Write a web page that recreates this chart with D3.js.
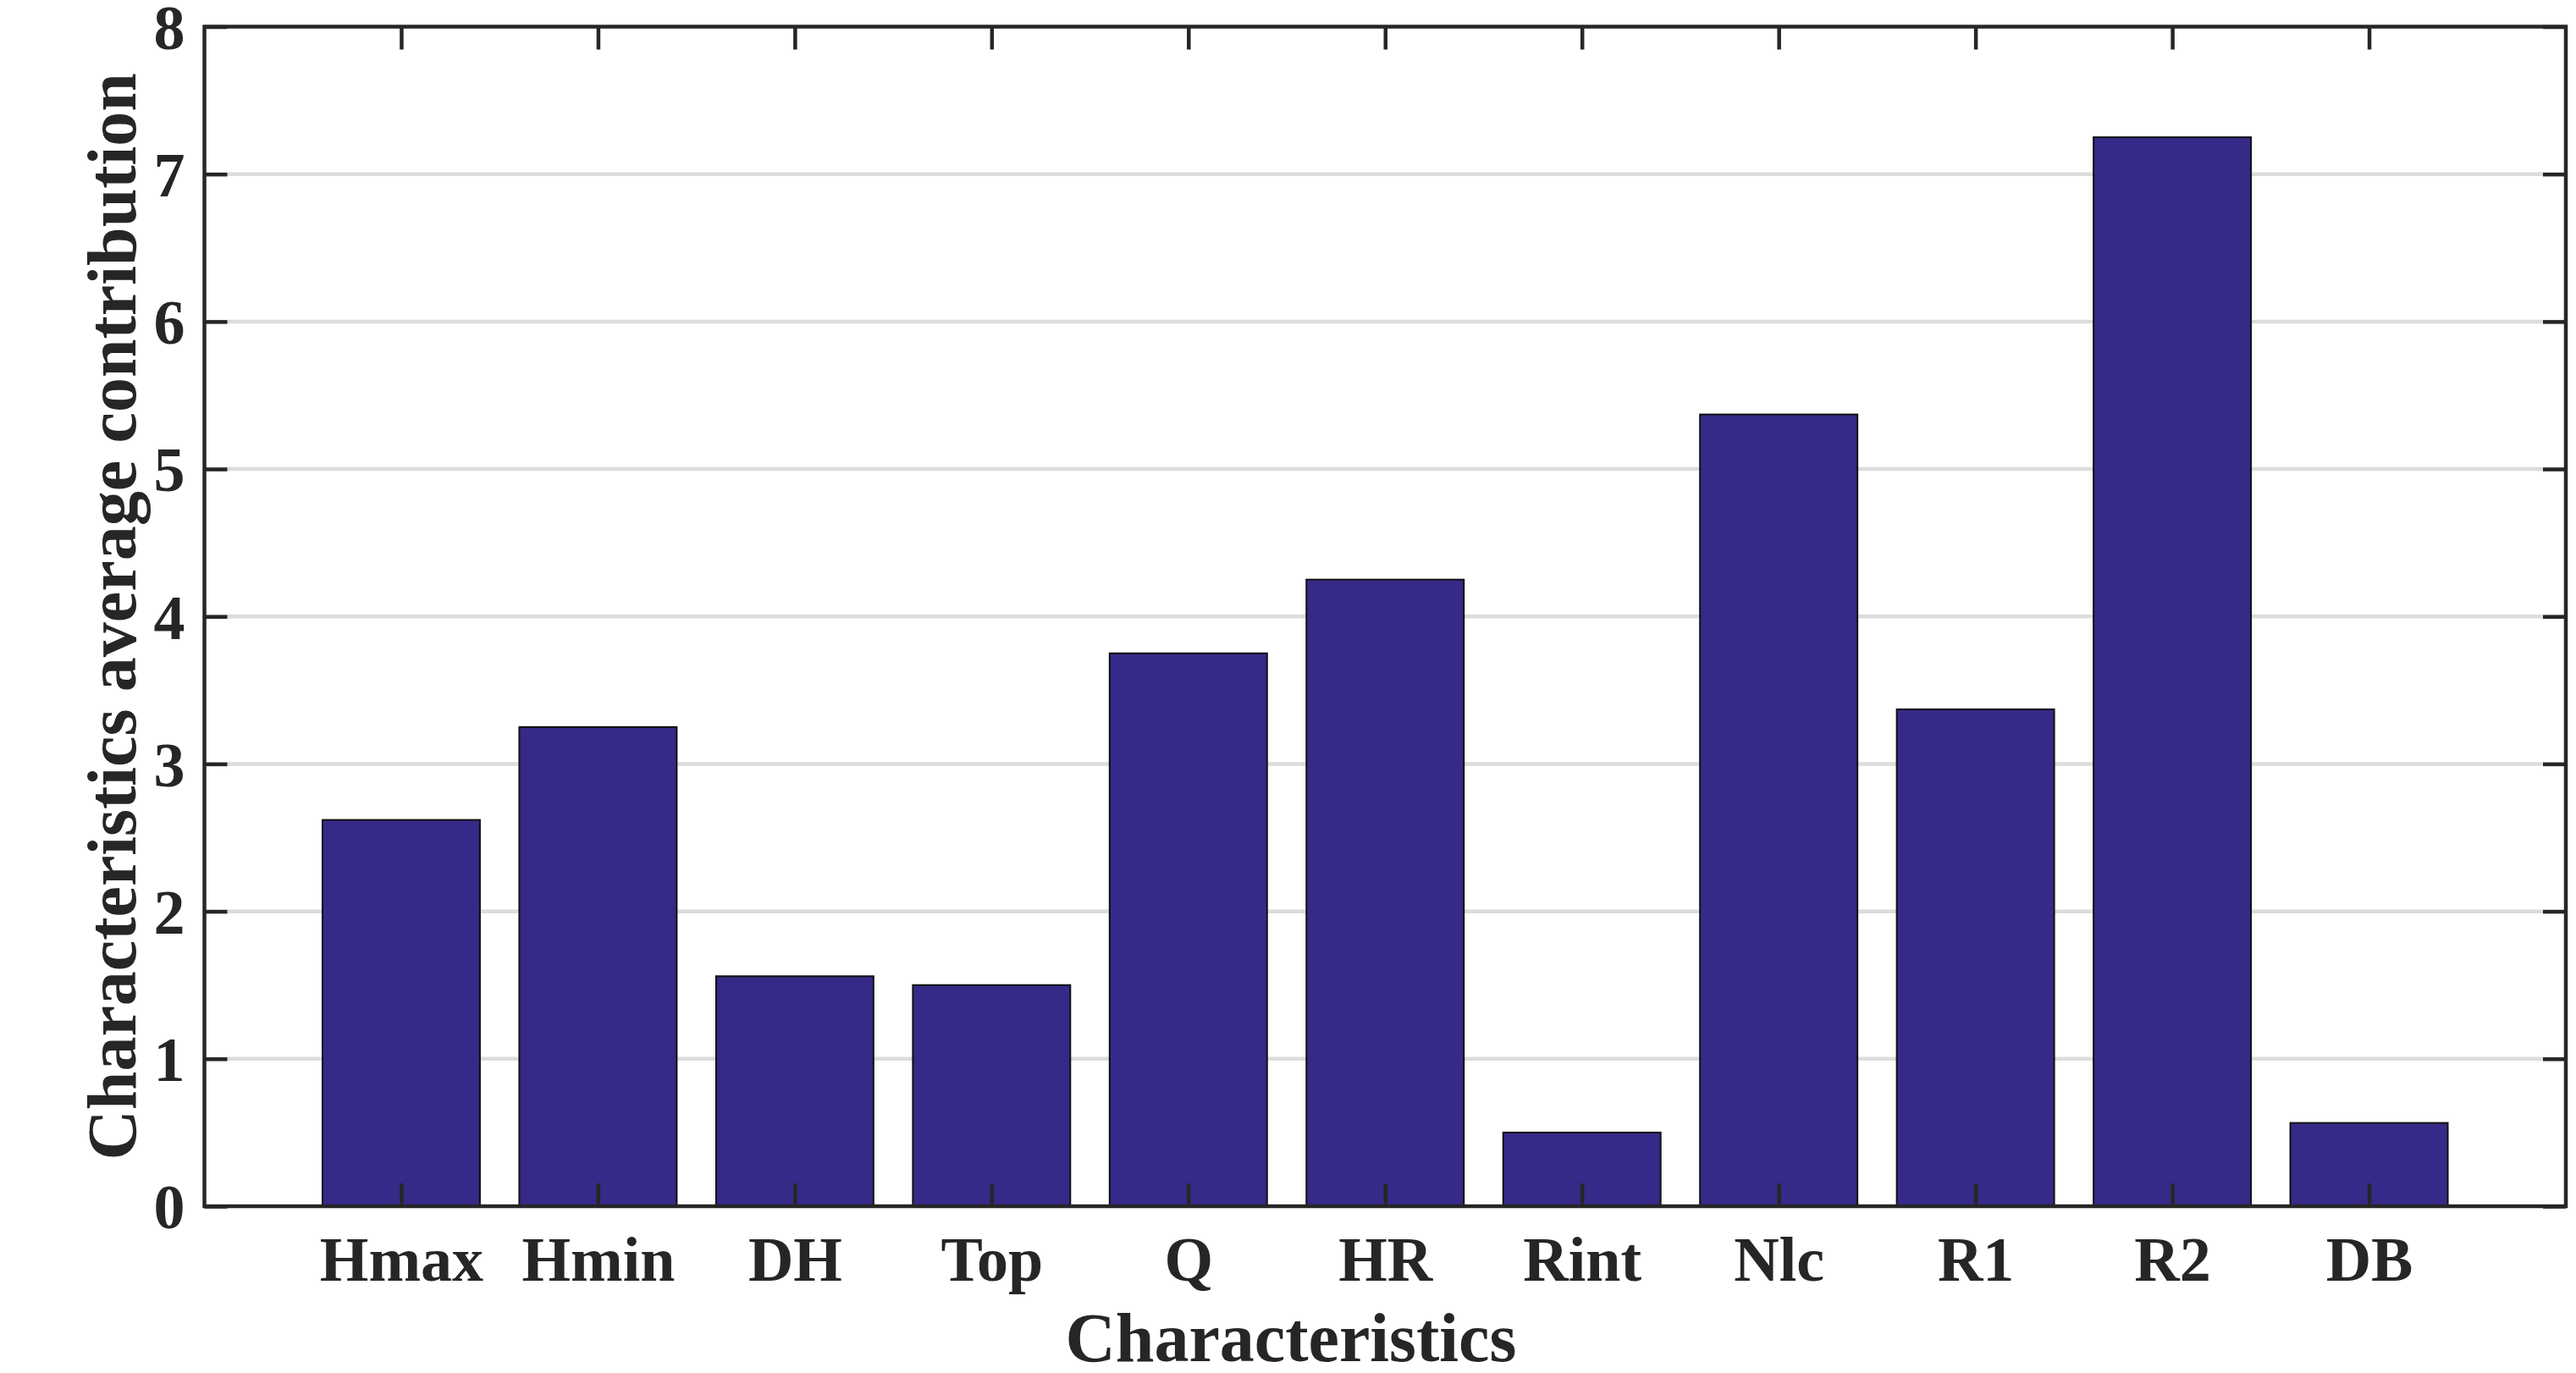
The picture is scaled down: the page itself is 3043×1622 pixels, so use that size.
<!DOCTYPE html>
<html>
<head>
<meta charset="utf-8">
<script src="https://cdn.jsdelivr.net/npm/d3@7"></script>
<style>
  html, body { margin: 0; padding: 0; background: #fff; }
  text { font-family: "Liberation Serif", "Times New Roman", serif; font-weight: bold; fill: #262626; }
</style>
</head>
<body>
<svg id="chart" width="3043" height="1622"></svg>
<script>
// data
const categories = ['Hmax', 'Hmin', 'DH', 'Top', 'Q', 'HR', 'Rint', 'Nlc', 'R1', 'R2', 'DB'];
const contribution = [2.62, 3.25, 1.56, 1.50, 3.75, 4.25, 0.50, 5.37, 3.37, 7.25, 0.565];
const yTicks = [0, 1, 2, 3, 4, 5, 6, 7, 8];

const plotLeft = 241.5, plotRight = 3031, plotTop = 31.5, plotBottom = 1425;
const tickLen = 27;
const ink = '#262626';

const svg = d3.select('#chart');

const x = d3.scaleLinear().domain([0, 12]).range([plotLeft, plotRight]);
const y = d3.scaleLinear().domain([0, 8]).range([plotBottom, plotTop]);

// grid lines (behind bars)
svg.append('g')
    .selectAll('line')
    .data(yTicks.filter(d => d > 0 && d < 8))
    .join('line')
    .attr('x1', plotLeft)
    .attr('x2', plotRight)
    .attr('y1', d => y(d))
    .attr('y2', d => y(d))
    .attr('stroke', '#dcdcdc')
    .attr('stroke-width', 4.5);

// bars
svg.append('g')
    .selectAll('rect')
    .data(contribution)
    .join('rect')
    .attr('x', (d, i) => x(i + 1 - 0.4))
    .attr('width', x(0.8) - x(0))
    .attr('y', d => y(d))
    .attr('height', d => y(0) - y(d))
    .attr('fill', '#352a87')
    .attr('stroke', '#111')
    .attr('stroke-width', 2);

// left axis
const yAxis = svg.append('g')
    .attr('transform', `translate(${plotLeft},0)`)
    .call(d3.axisLeft(y).tickValues(yTicks).tickFormat(d3.format('d'))
        .tickSizeInner(-tickLen).tickSizeOuter(0).tickPadding(23));
yAxis.selectAll('text').attr('dy', '0.35em').style('font-size', '74px');

// right axis ticks
svg.append('g')
    .attr('transform', `translate(${plotRight},0)`)
    .call(d3.axisRight(y).tickValues(yTicks).tickFormat('')
        .tickSizeInner(-tickLen).tickSizeOuter(0));

// bottom axis
const xAxis = svg.append('g')
    .attr('transform', `translate(0,${plotBottom})`)
    .call(d3.axisBottom(x).tickValues(d3.range(1, 12)).tickFormat(i => categories[i - 1])
        .tickSizeInner(-tickLen).tickSizeOuter(0));
xAxis.selectAll('text').attr('y', 88).attr('dy', 0).style('font-size', '74px');

// top axis ticks
svg.append('g')
    .attr('transform', `translate(0,${plotTop})`)
    .call(d3.axisTop(x).tickValues(d3.range(1, 12)).tickFormat('')
        .tickSizeInner(-tickLen).tickSizeOuter(0));

svg.selectAll('.domain').remove();
svg.selectAll('.tick line').attr('stroke', ink).attr('stroke-width', 4.5);
svg.selectAll('.tick text').attr('fill', ink).style('font-family', '"Liberation Serif", serif');

// box
svg.append('rect')
    .attr('x', plotLeft)
    .attr('y', plotTop)
    .attr('width', plotRight - plotLeft)
    .attr('height', plotBottom - plotTop)
    .attr('fill', 'none')
    .attr('stroke', ink)
    .attr('stroke-width', 4.5);

// axis titles
svg.append('text')
    .attr('x', 1525)
    .attr('y', 1608)
    .attr('text-anchor', 'middle')
    .style('font-size', '82px')
    .text('Characteristics');

svg.append('text')
    .attr('transform', `translate(160,${(plotTop + plotBottom) / 2}) rotate(-90)`)
    .attr('text-anchor', 'middle')
    .style('font-size', '82px')
    .text('Characteristics average contribution');
</script>
</body>
</html>
